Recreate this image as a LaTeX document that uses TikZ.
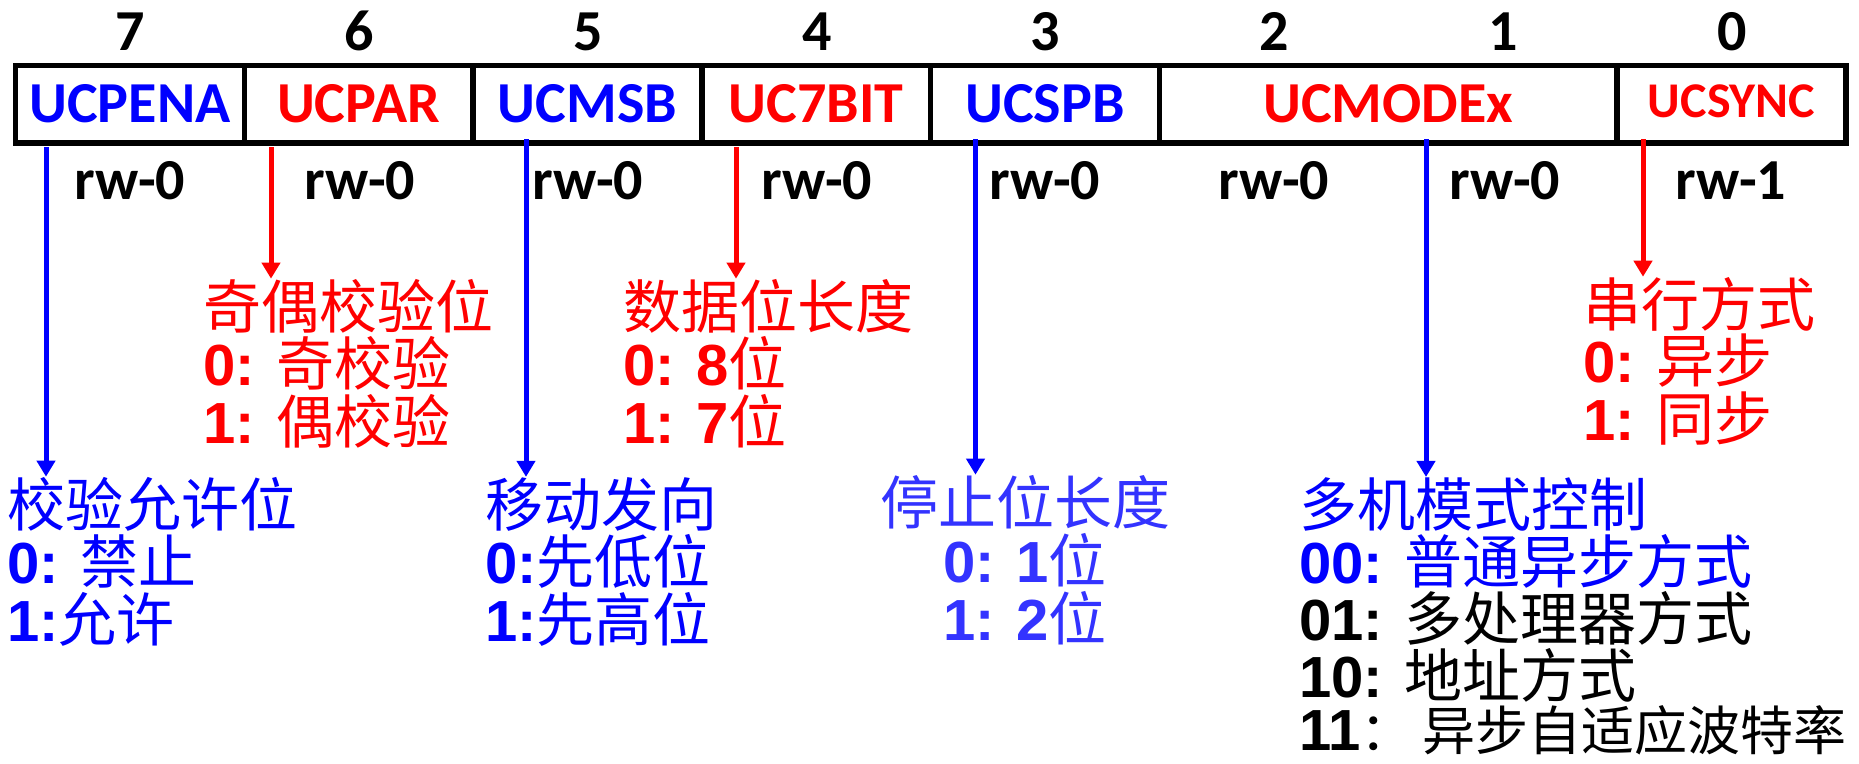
\documentclass[tikz,border=0pt]{standalone}
\usepackage{fontspec}
\setmainfont{Liberation Sans}
\newfontfamily\cjk{Noto Sans CJK SC}
\newfontfamily\calib{Carlito}
\usetikzlibrary{arrows.meta}
\newcommand\zh[1]{{\cjk\mdseries #1}}
\definecolor{regblue}{RGB}{0,0,255}
\definecolor{regred}{RGB}{255,0,0}
\definecolor{lightblue}{RGB}{51,51,255}
\tikzset{
  hdr/.style={anchor=base, inner sep=0pt, font=\calib\bfseries\fontsize{58}{58}\selectfont},
  cell/.style={draw, line width=5.5pt, inner sep=0pt, minimum height=77.5pt, anchor=center,
     font=\calib\bfseries\fontsize{58}{58}\selectfont},
  txt/.style={anchor=base west, inner sep=0pt, font=\bfseries\fontsize{58}{58}\selectfont},
  ctxt/.style={anchor=base, inner sep=0pt, font=\bfseries\fontsize{58}{58}\selectfont},
  pointer/.style={line width=5pt, -{Triangle[length=16pt,width=18pt]}},
}
\begin{document}
\begin{tikzpicture}[x=1pt,y=-1pt]
\useasboundingbox (0,0) rectangle (1859,763);
% bit numbers
\node[hdr] (n7) at (130,50) {7};
\node[hdr] (n6) at (359,50) {6};
\node[hdr] (n5) at (588,50) {5};
\node[hdr] (n4) at (817,50) {4};
\node[hdr] (n3) at (1045,50) {3};
\node[hdr] (n2) at (1274,50) {2};
\node[hdr] (n1) at (1503,50) {1};
\node[hdr] (n0) at (1732,50) {0};
% register cells
\node[cell, minimum width=228.8pt, text=regblue] (c7) at (129.9,104) {UCPENA};
\node[cell, minimum width=228.8pt, text=regred] (c6) at (358.7,104) {UCPAR};
\node[cell, minimum width=228.8pt, text=regblue] (c5) at (587.5,104) {UCMSB};
\node[cell, minimum width=228.8pt, text=regred] (c4) at (816.3,104) {UC7BIT};
\node[cell, minimum width=228.8pt, text=regblue] (c3) at (1045.1,104) {UCSPB};
\node[cell, minimum width=457.6pt, text=regred] (c21) at (1388.3,104) {UCMODEx};
\node[cell, minimum width=228.8pt, text=regred] (c0) at (1731.5,104) {\raisebox{5pt}{\fontsize{50}{50}\selectfont UCSYNC}};
% access labels
\node[hdr] (r7) at (130,199) {rw-0};
\node[hdr] (r6) at (360,199) {rw-0};
\node[hdr] (r5) at (588,199) {rw-0};
\node[hdr] (r4) at (817,199) {rw-0};
\node[hdr] (r3) at (1045,199) {rw-0};
\node[hdr] (r2) at (1274,199) {rw-0};
\node[hdr] (r1) at (1505,199) {rw-0};
\node[hdr] (r0) at (1731,199) {rw-1};
% descriptions
\begin{scope}[text=regred]
\node[txt] (d6a) at (203,328) {\zh{奇偶校验位}};
\node[txt] (d6b) at (203,385) {0: \zh{奇校验}};
\node[txt] (d6c) at (203,443) {1: \zh{偶校验}};
\node[txt] (d4a) at (623,328) {\zh{数据位长度}};
\node[txt] (d4b) at (623,385) {0: 8\zh{位}};
\node[txt] (d4c) at (623,443) {1: 7\zh{位}};
\node[txt] (d0a) at (1583,326) {\zh{串行方式}};
\node[txt] (d0b) at (1583,382) {0: \zh{异步}};
\node[txt] (d0c) at (1583,440) {1: \zh{同步}};
\end{scope}
\begin{scope}[text=regblue]
\node[txt] (d7a) at (7,526) {\zh{校验允许位}};
\node[txt] (d7b) at (7,583) {0: \zh{禁止}};
\node[txt] (d7c) at (7,641) {1:\zh{允许}};
\node[txt] (d5a) at (485,526) {\zh{移动发向}};
\node[txt] (d5b) at (485,583) {0:\zh{先低位}};
\node[txt] (d5c) at (485,641) {1:\zh{先高位}};
\node[txt] (d1a) at (1299,526) {\zh{多机模式控制}};
\node[txt] (d1b) at (1299,583) {00: \zh{普通异步方式}};
\end{scope}
\begin{scope}[text=lightblue]
\node[ctxt] (d3a) at (1025,524) {\zh{停止位长度}};
\node[ctxt] (d3b) at (1025,582) {0: 1\zh{位}};
\node[ctxt] (d3c) at (1025,640) {1: 2\zh{位}};
\end{scope}
\node[txt] (d1c) at (1299,640) {01: \zh{多处理器方式}};
\node[txt] (d1d) at (1299,697) {10: \zh{地址方式}};
\node[txt] (d1e) at (1299,750) {11{\fontsize{53}{53}\selectfont\zh{：}\hspace{9pt}\zh{异步自适应波特率}}};
% pointers
\coordinate (s7) at (46,147);
\coordinate (s6) at (271,147);
\coordinate (s5) at (526,139);
\coordinate (s4) at (736,147);
\coordinate (s3) at (975.5,139);
\coordinate (s1) at (1426,139);
\coordinate (s0) at (1643,139);
\draw[pointer, regblue] (s7) -- (s7 |- d7a.north);
\draw[pointer, regred] (s6) -- (s6 |- d6a.north);
\draw[pointer, regblue] (s5) -- (s5 |- d5a.north);
\draw[pointer, regred] (s4) -- (s4 |- d4a.north);
\draw[pointer, regblue] (s3) -- (s3 |- d3a.north);
\draw[pointer, regblue] (s1) -- (s1 |- d1a.north);
\draw[pointer, regred] (s0) -- (s0 |- d0a.north);
\end{tikzpicture}
\end{document}
